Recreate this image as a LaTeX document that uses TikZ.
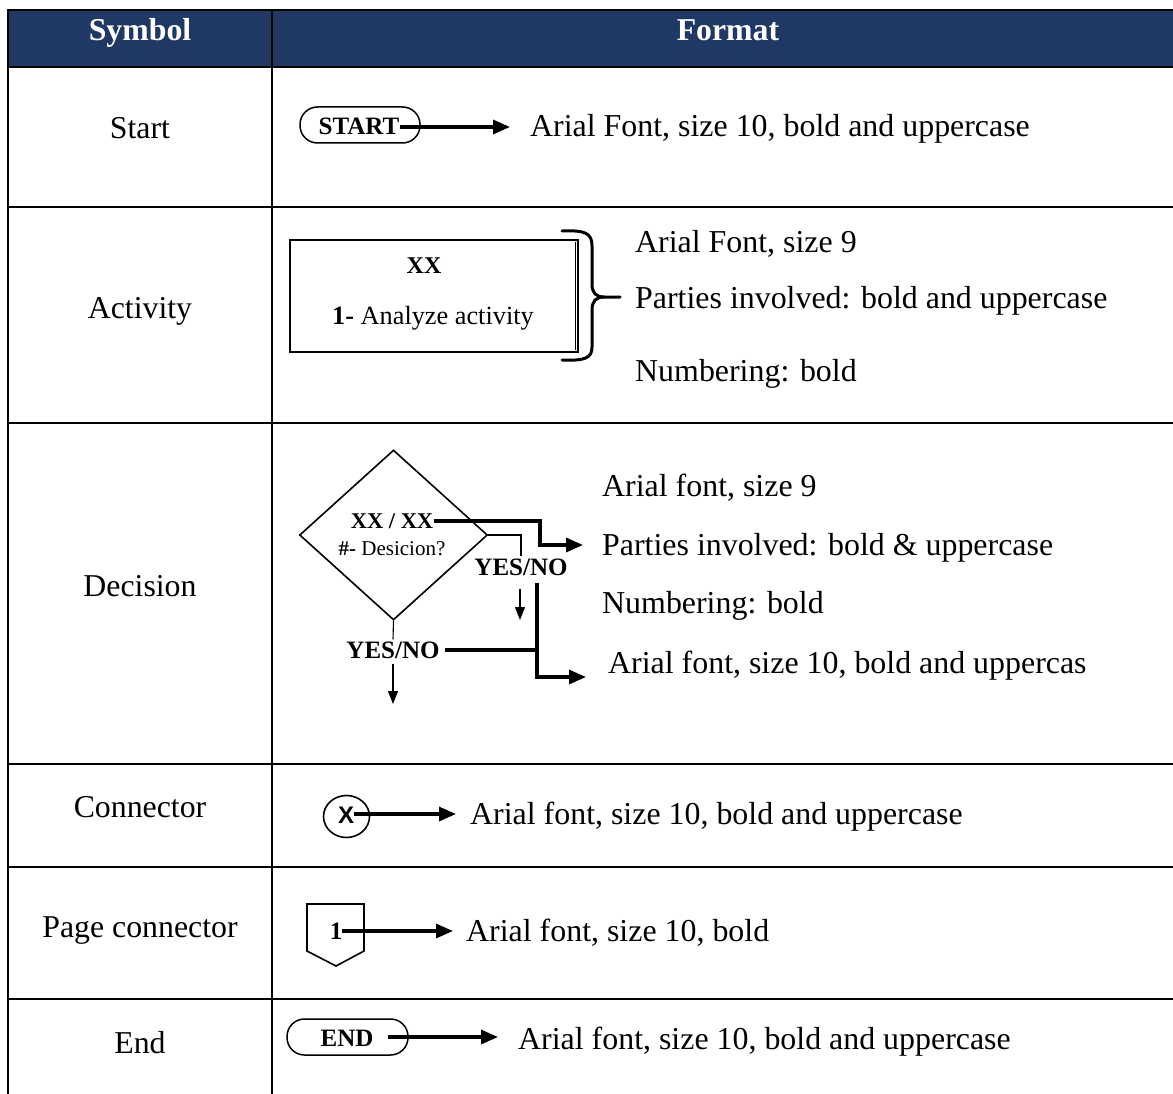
\documentclass[tikz,border=0pt]{standalone}
\usepackage{fontspec}
\setmainfont{Liberation Serif}
\newfontfamily\arialfont{Liberation Sans}
\usetikzlibrary{arrows.meta,shapes.geometric,calc}
\definecolor{headblue}{RGB}{32,56,100}
\begin{document}
\begin{tikzpicture}[x=1pt,y=-1pt,
  rule/.style={line width=2.8pt, line cap=rect},
  head/.style={text=white, font=\fontsize{31.8}{38}\selectfont\bfseries, anchor=base, inner sep=0pt},
  symname/.style={font=\fontsize{31.8}{38}\selectfont, anchor=base, inner sep=0pt},
  desc/.style={font=\fontsize{31.9}{38}\selectfont, anchor=base west, inner sep=0pt},
  termbox/.style={draw, line width=1.5pt, rounded corners=17.5pt, minimum width=#1, minimum height=36pt, inner sep=0pt},
  termtext/.style={font=\fontsize{25}{30}\selectfont\bfseries, inner sep=0pt},
  smalltext/.style={font=\fontsize{26.3}{31}\selectfont, inner sep=0pt},
  dectext/.style={font=\fontsize{21}{25}\selectfont, inner sep=1pt},
  yesno/.style={font=\fontsize{25}{30}\selectfont\bfseries, inner sep=2pt},
  outline/.style={draw, line width=1.6pt, inner sep=0pt},
  flowthick/.style={line width=3.2pt, -{Triangle[length=17pt,width=14pt]}},
  thickline/.style={line width=3.2pt},
  flowthin/.style={line width=1.1pt, -{Triangle[length=13pt,width=10pt]}},
  thinline/.style={line width=1.1pt},
  bracestyle/.style={line width=3pt, line cap=round}
]
\useasboundingbox (0,0) rectangle (1173,1094);

% header band
\fill[headblue] (8,10) rectangle (1173,67);
\node[head] (hsym) at (140,41) {Symbol};
\node[head] (hfmt) at (728,41) {Format};

% table rules
\foreach \yy in {10,67,207,423,764,867,999}
  \draw[rule] (8,\yy) -- (1175,\yy);
\draw[rule] (8,10) -- (8,1096);
\draw[rule] (272,10) -- (272,1096);

% symbol names
\node[symname] (lstart) at (140,139) {Start};
\node[symname] (lact) at (140,318) {Activity};
\node[symname] (ldec) at (140,596) {Decision};
\node[symname] (lconn) at (140,817) {Connector};
\node[symname] (lpage) at (140,937) {Page connector};
\node[symname] (lend) at (140,1053) {End};

% start terminal
\node[termbox=120pt] (startbox) at (360,125) {};
\node[termtext] (startlbl) at (359,126) {START};
\node[desc] (startdesc) at (530,137) {Arial Font, size 10, bold and uppercase};
\coordinate (starttip) at (510,127);
\draw[flowthick] (startlbl.east |- starttip) -- (starttip);

% activity box
\node[outline, line width=2pt, minimum width=288pt, minimum height=112pt] (actbox) at (434,296) {};
\draw[line width=1pt] ($(actbox.north east)+(-4,3)$) -- ($(actbox.south east)+(-4,-3)$);
\node[termtext, font=\fontsize{24}{28}\selectfont\bfseries] (actparty) at (424,266) {XX};
\node[smalltext] (actstep) at (433,318) {\textbf{1-} Analyze activity};
\draw[bracestyle] (562,231) .. controls (585,230) and (592,233) .. (592,246)
  -- (592,284) .. controls (592,293) and (596,297) .. (604,297) -- (620,297);
\draw[bracestyle] (562,360) .. controls (585,361) and (592,358) .. (592,347)
  -- (592,310) .. controls (592,301) and (596,297) .. (604,297);
\node[desc] (actd1) at (635,253) {Arial Font, size 9};
\node[desc] (actd2) at (635,308) {Parties involved: bold and uppercase};
\node[desc] (actd3) at (635,381) {Numbering: bold};

% decision diamond
\node[outline, diamond, minimum width=188pt, minimum height=170pt] (dec) at (393.5,535) {};
\node[dectext, font=\fontsize{22.5}{27}\selectfont\bfseries] (decparty) at (392,521) {XX / XX};
\node[dectext] (decstep) at (392,549) {\textbf{\#-} Desicion?};
\node[yesno] (yn1) at (521,567) {YES/NO};
\node[yesno] (yn2) at (393,650) {YES/NO};
\node[desc] (decd1) at (602,496) {Arial font, size 9};
\node[desc] (decd2) at (602,555) {Parties involved: bold \& uppercase};
\node[desc] (decd3) at (602,613) {Numbering: bold};
\node[desc] (decd4) at (608,673) {Arial font, size 10, bold and uppercas};

\coordinate (bendA) at (540,521);
\coordinate (tipA) at (583,545);
\draw[flowthick] (decparty.east) -- (bendA) |- (tipA);
\draw[thinline] (dec.east) -| (yn1.north);
\coordinate (tipB) at (520,620);
\draw[flowthin, shorten <=11pt] (yn1.south -| tipB) -- (tipB);
\coordinate (bendC) at (537,677);
\coordinate (tipC) at (586,677);
\draw[flowthick, shorten <=5pt] (yn1.south -| bendC) -- (bendC) -- (tipC);
\draw[thickline, shorten <=3pt] (yn2.east) -- (yn2.east -| bendC);
\draw[thinline] (dec.south) -- (yn2.north);
\coordinate (tipD) at (393,704);
\draw[flowthin, shorten <=3pt] (yn2.south) -- (tipD);

% connector circle
\node[outline, ellipse, minimum width=46pt, minimum height=42pt] (connbox) at (346.5,816.5) {};
\node[inner sep=0pt, font=\arialfont\bfseries\fontsize{24}{28}\selectfont] (connlbl) at (346,815) {X};
\node[desc] (conndesc) at (470,824) {Arial font, size 10, bold and uppercase};
\coordinate (conntip) at (456,814);
\draw[flowthick] (connlbl.east |- conntip) -- (conntip);

% off-page connector
\draw[line width=1.6pt, line join=miter] (307,904) -- (364,904) -- (364,951) -- (336,966) -- (307,951) -- cycle;
\node[termtext] (pagelbl) at (336,931) {1};
\node[desc] (pagedesc) at (466,941) {Arial font, size 10, bold};
\coordinate (pagetip) at (453,931);
\draw[flowthick] (pagelbl.east |- pagetip) -- (pagetip);

% end terminal
\node[termbox=121pt] (endbox) at (347.5,1037) {};
\node[termtext] (endlbl) at (347,1038) {END};
\node[desc] (enddesc) at (518,1049) {Arial font, size 10, bold and uppercase};
\coordinate (endtip) at (498,1037);
\draw[flowthick, shorten <=14pt] (endlbl.east |- endtip) -- (endtip);
\end{tikzpicture}
\end{document}
